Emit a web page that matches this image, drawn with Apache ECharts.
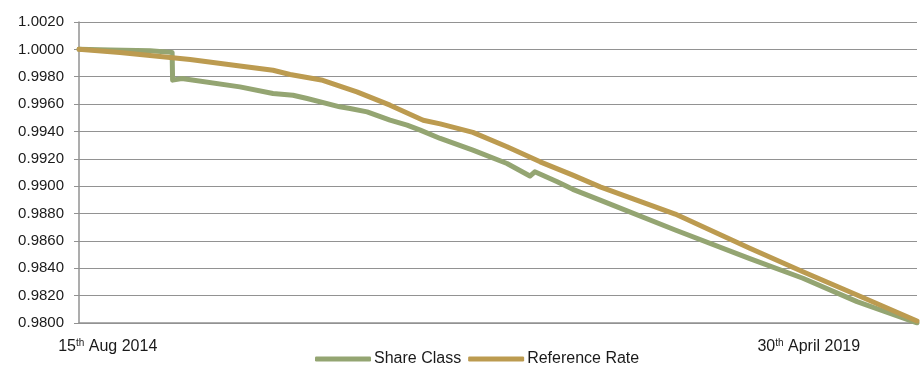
<!DOCTYPE html>
<html>
<head>
<meta charset="utf-8">
<script src="https://cdn.jsdelivr.net/npm/echarts@6/dist/echarts.min.js"></script>
<style>
  html, body { margin: 0; padding: 0; background: #fff; }
  #chart { width: 923px; height: 367px; }
</style>
</head>
<body>
<div id="chart"></div>
<script>
// Daily NAV of the share class against the reference rate, indexed to 1.0000
var shareDates = ['2014-08-15','2014-10-18','2015-01-08','2015-02-22','2015-02-23','2015-03-14','2015-07-11',
  '2015-09-17','2015-10-28','2015-11-26','2016-02-01','2016-02-22','2016-03-28','2016-05-14','2016-06-18',
  '2016-07-15','2016-08-25','2016-10-31','2017-01-09','2017-02-25','2017-03-07','2017-04-22','2017-05-24',
  '2017-07-19','2017-12-20','2018-05-22','2018-09-08','2018-12-28','2019-04-30'];
var shareValues = [1.0000, 0.99995, 0.9999, 0.99978, 0.99775, 0.99787, 0.99726,
  0.99677, 0.99665, 0.99641, 0.99580, 0.99568, 0.99543, 0.99483, 0.99446,
  0.99410, 0.99349, 0.99263, 0.99166, 0.99074, 0.99105, 0.99032, 0.98977,
  0.98898, 0.98680, 0.98470, 0.98327, 0.98156, 0.98000];

var refDates = ['2014-08-15','2014-11-07','2015-03-31','2015-07-11','2015-09-17','2015-10-22','2015-12-28',
  '2016-03-07','2016-05-14','2016-07-21','2016-08-25','2016-10-31','2017-01-09','2017-03-18','2017-05-24',
  '2017-07-19','2017-12-20','2018-05-22','2018-09-08','2018-12-28','2019-04-30'];
var refValues = [1.0000, 0.99977, 0.99926, 0.99879, 0.99847, 0.99816, 0.99774,
  0.99689, 0.99592, 0.99482, 0.99455, 0.99393, 0.99288, 0.99178, 0.99081,
  0.98995, 0.98796, 0.98546, 0.98375, 0.98205, 0.98015];

var seriesNames = ['Share Class', 'Reference Rate'];
var periodStart = '2014-08-15';
var periodEnd = '2019-04-30';
var xLabelDates = ['2014-10-13', '2018-09-20'];
var xLabels = [['15', 'th', ' Aug 2014'], ['30', 'th', ' April 2019']];

function ts(d) { return Date.parse(d + 'T00:00:00Z'); }
function pairs(dates, values) {
  return dates.map(function (d, i) { return [ts(d), values[i]]; });
}

var labelTs = xLabelDates.map(ts);
var chart = echarts.init(document.getElementById('chart'), null, { renderer: 'canvas' });
var font = 'Liberation Sans, Arial, sans-serif';
var gridColor = '#929292';

chart.setOption({
  animation: false,
  backgroundColor: '#ffffff',
  grid: { left: 79, right: 6, top: 22, bottom: 44, containLabel: false },
  xAxis: {
    type: 'value',
    min: ts(periodStart),
    max: ts(periodEnd),
    axisLine: { show: true, lineStyle: { color: gridColor, width: 1.5 } },
    axisTick: { show: false },
    splitLine: { show: false },
    axisLabel: {
      customValues: labelTs,
      margin: 15,
      formatter: function (val) {
        var k = labelTs.indexOf(val);
        var p = xLabels[k] || ['', '', ''];
        return '{t|' + p[0] + '}{s|' + p[1] + '}{t|' + p[2] + '}';
      },
      rich: {
        t: { fontFamily: font, fontSize: 16, color: '#1a1a1a' },
        s: { fontFamily: font, fontSize: 10, color: '#1a1a1a', padding: [0, 0, 7, 0] }
      }
    }
  },
  yAxis: {
    type: 'value',
    min: 0.98,
    max: 1.002,
    interval: 0.002,
    axisLine: { show: true, lineStyle: { color: gridColor, width: 1.5 } },
    axisTick: { show: true, length: 5, lineStyle: { color: gridColor } },
    splitLine: { show: true, lineStyle: { color: gridColor, width: 1 } },
    axisLabel: {
      margin: 15,
      fontFamily: font,
      fontSize: 15,
      color: '#1a1a1a',
      formatter: function (v) { return v.toFixed(4); }
    }
  },
  legend: {
    left: 315,
    top: 351,
    padding: 0,
    icon: 'roundRect',
    itemWidth: 56,
    itemHeight: 5,
    itemGap: 7,
    textStyle: { fontFamily: font, fontSize: 16, color: '#1a1a1a', padding: [0, 0, 0, -2] },
    data: seriesNames
  },
  series: [
    {
      name: seriesNames[0],
      type: 'line',
      data: pairs(shareDates, shareValues),
      showSymbol: false,
      symbol: 'none',
      color: '#94a572',
      lineStyle: { color: '#94a572', width: 5, cap: 'round', join: 'round' }
    },
    {
      name: seriesNames[1],
      type: 'line',
      data: pairs(refDates, refValues),
      showSymbol: false,
      symbol: 'none',
      color: '#bc9b50',
      lineStyle: { color: '#bc9b50', width: 5, cap: 'round', join: 'round' }
    }
  ]
});
</script>
</body>
</html>
